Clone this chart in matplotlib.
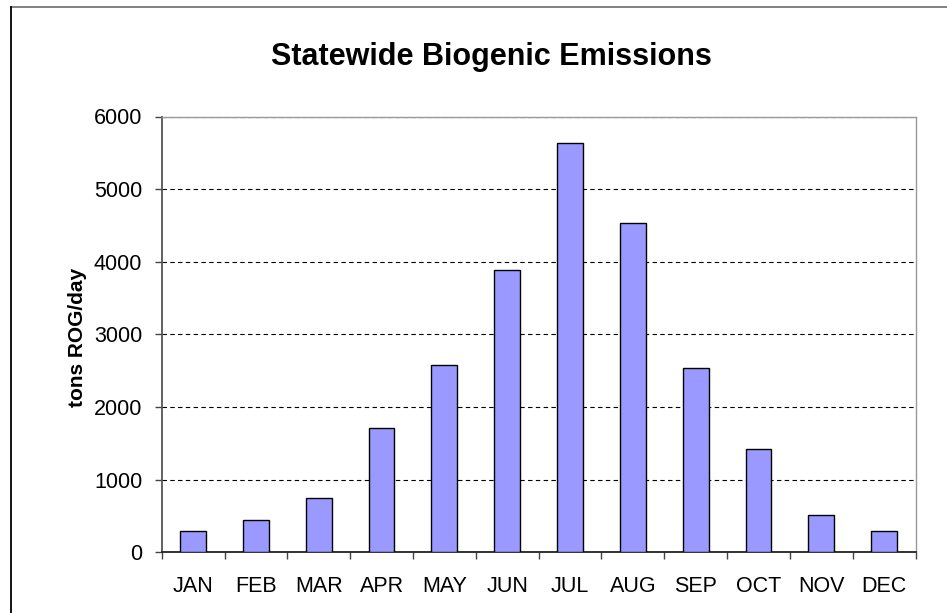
import matplotlib
matplotlib.use("Agg")
import matplotlib.pyplot as plt
import numpy as np
from matplotlib.lines import Line2D

# data
months = ["JAN", "FEB", "MAR", "APR", "MAY", "JUN", "JUL", "AUG", "SEP", "OCT", "NOV", "DEC"]
emissions = [298, 449, 747, 1709, 2585, 3882, 5637, 4533, 2544, 1425, 513, 298]
y_ticks = [0, 1000, 2000, 3000, 4000, 5000, 6000]

plt.rcParams['font.family'] = ['Liberation Sans', 'DejaVu Sans']

W, H = 947, 613
fig = plt.figure(figsize=(W / 100, H / 100), dpi=100)
ax = fig.add_axes([161.7 / W, 1 - 552.3 / H, (915.5 - 161.7) / W, (552.3 - 116.5) / H])

x = np.arange(len(months))
ax.bar(x, emissions, width=0.41, color='#9999FF', edgecolor='black', linewidth=1.0, zorder=3)

ax.set_xlim(-0.5, len(months) - 0.5)
ax.set_ylim(0, 6000)
ax.set_yticks(y_ticks)
ax.tick_params(axis='y', labelsize=15.5, length=5, width=1, color='#444444', pad=9)
ax.set_xticks(x)
ax.set_xticklabels(months)
ax.tick_params(axis='x', which='major', length=0, labelsize=15.5, pad=17)
ax.set_xticks(np.arange(-0.5, len(months), 1.0), minor=True)
ax.tick_params(axis='x', which='minor', length=5, width=1, color='#444444')

ax.grid(axis='y', linestyle=(0, (4, 3)), color='black', linewidth=0.8, zorder=0)
for side in ['top', 'right']:
    ax.spines[side].set_color('#999999')
    ax.spines[side].set_linewidth(1.0)
ax.spines['left'].set_color('#555555')
ax.spines['left'].set_linewidth(1.3)
ax.spines['bottom'].set_color('#222222')
ax.spines['bottom'].set_linewidth(1.3)

fig.text(77 / W, 1 - 337 / H, 'tons ROG/day', rotation=90, ha='center', va='center',
         fontsize=15, fontweight='bold')
fig.text(491 / W, 1 - 57 / H, 'Statewide Biogenic Emissions', ha='center', va='center',
         fontsize=22, fontweight='bold')

# outer chart border (only top and left visible in the crop)
fig.lines.append(Line2D([11 / W, 1.0], [1 - 7 / H, 1 - 7 / H], transform=fig.transFigure,
                        color='#777777', linewidth=1.3))
fig.lines.append(Line2D([11 / W, 11 / W], [0.0, 1 - 7 / H], transform=fig.transFigure,
                        color='black', linewidth=1.3))

fig.savefig('out.png', dpi=100)
